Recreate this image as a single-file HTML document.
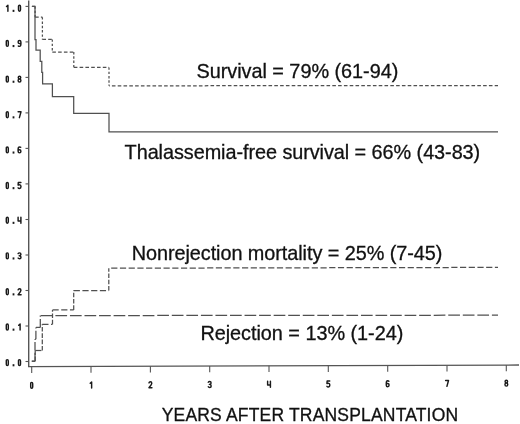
<!DOCTYPE html>
<html><head><meta charset="utf-8"><style>
html,body{margin:0;padding:0;background:#fff;width:520px;height:424px;overflow:hidden}
svg{display:block;filter:grayscale(1)}
.lb{font-family:"Liberation Sans",sans-serif;fill:#111;stroke:#111;stroke-width:0.3}
.gl{fill:none;stroke:#1a1a1a;stroke-width:1.45;stroke-linecap:round;stroke-linejoin:round}
</style></head><body>
<svg width="520" height="424" viewBox="0 0 520 424">
<line x1="28.7" y1="0.5" x2="28.7" y2="366.8" stroke="#555" stroke-width="1.4"/>
<line x1="28" y1="366.6" x2="519" y2="365" stroke="#555" stroke-width="1.3"/>
<line x1="25.5" y1="361.5" x2="28.7" y2="361.5" stroke="#555" stroke-width="1.1"/>
<path transform="translate(6.30,359.65)" d="M0,1.3 Q0,0 1.0,0 Q2.0,0 2.0,1.3 L2.0,4.6 Q2.0,5.9 1.0,5.9 Q0,5.9 0,4.6 Z" class="gl"/>
<rect x="12.60" y="364.20" width="1.8" height="2.1" fill="#1a1a1a"/>
<path transform="translate(18.50,359.65)" d="M0,1.3 Q0,0 1.0,0 Q2.0,0 2.0,1.3 L2.0,4.6 Q2.0,5.9 1.0,5.9 Q0,5.9 0,4.6 Z" class="gl"/>
<line x1="25.5" y1="326.0" x2="28.7" y2="326.0" stroke="#555" stroke-width="1.1"/>
<path transform="translate(6.30,324.05)" d="M0,1.3 Q0,0 1.0,0 Q2.0,0 2.0,1.3 L2.0,4.6 Q2.0,5.9 1.0,5.9 Q0,5.9 0,4.6 Z" class="gl"/>
<rect x="12.60" y="328.60" width="1.8" height="2.1" fill="#1a1a1a"/>
<path transform="translate(18.70,324.05)" d="M0,1.2 L1.4,0 L1.4,5.9" class="gl"/>
<line x1="25.5" y1="290.5" x2="28.7" y2="290.5" stroke="#555" stroke-width="1.1"/>
<path transform="translate(6.30,288.75)" d="M0,1.3 Q0,0 1.0,0 Q2.0,0 2.0,1.3 L2.0,4.6 Q2.0,5.9 1.0,5.9 Q0,5.9 0,4.6 Z" class="gl"/>
<rect x="12.60" y="293.30" width="1.8" height="2.1" fill="#1a1a1a"/>
<path transform="translate(18.10,288.75)" d="M0,1.1 Q0.3,0 1.4,0 Q2.8,0 2.8,1.4 Q2.8,2.5 0,5.9 L3.0,5.9" class="gl"/>
<line x1="25.5" y1="255.0" x2="28.7" y2="255.0" stroke="#555" stroke-width="1.1"/>
<path transform="translate(6.30,252.85)" d="M0,1.3 Q0,0 1.0,0 Q2.0,0 2.0,1.3 L2.0,4.6 Q2.0,5.9 1.0,5.9 Q0,5.9 0,4.6 Z" class="gl"/>
<rect x="12.60" y="257.40" width="1.8" height="2.1" fill="#1a1a1a"/>
<path transform="translate(18.10,252.85)" d="M0,0.7 Q0.4,0 1.4,0 Q2.8,0 2.8,1.45 Q2.8,2.85 1.1,2.85 M1.1,2.85 Q2.9,2.85 2.9,4.4 Q2.9,5.9 1.4,5.9 Q0.3,5.9 0,5.2" class="gl"/>
<line x1="25.5" y1="219.5" x2="28.7" y2="219.5" stroke="#555" stroke-width="1.1"/>
<path transform="translate(6.30,217.25)" d="M0,1.3 Q0,0 1.0,0 Q2.0,0 2.0,1.3 L2.0,4.6 Q2.0,5.9 1.0,5.9 Q0,5.9 0,4.6 Z" class="gl"/>
<rect x="12.60" y="221.80" width="1.8" height="2.1" fill="#1a1a1a"/>
<path transform="translate(18.10,217.25)" d="M0,0 L0,3.7 L2.9,3.7 M2.8,0 L2.8,5.9" class="gl"/>
<line x1="25.5" y1="183.9" x2="28.7" y2="183.9" stroke="#555" stroke-width="1.1"/>
<path transform="translate(6.30,182.55)" d="M0,1.3 Q0,0 1.0,0 Q2.0,0 2.0,1.3 L2.0,4.6 Q2.0,5.9 1.0,5.9 Q0,5.9 0,4.6 Z" class="gl"/>
<rect x="12.60" y="187.10" width="1.8" height="2.1" fill="#1a1a1a"/>
<path transform="translate(18.10,182.55)" d="M2.8,0 L0.2,0 L0,2.6 Q0.6,2.2 1.4,2.2 Q2.9,2.2 2.9,4.05 Q2.9,5.9 1.4,5.9 Q0.4,5.9 0,5.3" class="gl"/>
<line x1="25.5" y1="148.4" x2="28.7" y2="148.4" stroke="#555" stroke-width="1.1"/>
<path transform="translate(6.30,146.95)" d="M0,1.3 Q0,0 1.0,0 Q2.0,0 2.0,1.3 L2.0,4.6 Q2.0,5.9 1.0,5.9 Q0,5.9 0,4.6 Z" class="gl"/>
<rect x="12.60" y="151.50" width="1.8" height="2.1" fill="#1a1a1a"/>
<path transform="translate(18.10,146.95)" d="M2.6,0.4 Q2.2,0 1.4,0 Q0,0 0,2.5 L0,4.4 Q0,5.9 1.4,5.9 Q2.8,5.9 2.8,4.3 Q2.8,2.75 1.4,2.75 Q0.3,2.75 0,3.5" class="gl"/>
<line x1="25.5" y1="112.9" x2="28.7" y2="112.9" stroke="#555" stroke-width="1.1"/>
<path transform="translate(6.30,111.75)" d="M0,1.3 Q0,0 1.0,0 Q2.0,0 2.0,1.3 L2.0,4.6 Q2.0,5.9 1.0,5.9 Q0,5.9 0,4.6 Z" class="gl"/>
<rect x="12.60" y="116.30" width="1.8" height="2.1" fill="#1a1a1a"/>
<path transform="translate(18.10,111.75)" d="M0,0 L2.9,0 L1.3,5.9" class="gl"/>
<line x1="25.5" y1="77.4" x2="28.7" y2="77.4" stroke="#555" stroke-width="1.1"/>
<path transform="translate(6.30,76.15)" d="M0,1.3 Q0,0 1.0,0 Q2.0,0 2.0,1.3 L2.0,4.6 Q2.0,5.9 1.0,5.9 Q0,5.9 0,4.6 Z" class="gl"/>
<rect x="12.60" y="80.70" width="1.8" height="2.1" fill="#1a1a1a"/>
<path transform="translate(18.10,76.15)" d="M1.4,2.75 Q0.15,2.75 0.15,1.375 Q0.15,0 1.4,0 Q2.65,0 2.65,1.375 Q2.65,2.75 1.4,2.75 Q0,2.75 0,4.3 Q0,5.9 1.4,5.9 Q2.8,5.9 2.8,4.3 Q2.8,2.75 1.4,2.75 Z" class="gl"/>
<line x1="25.5" y1="41.9" x2="28.7" y2="41.9" stroke="#555" stroke-width="1.1"/>
<path transform="translate(6.30,40.45)" d="M0,1.3 Q0,0 1.0,0 Q2.0,0 2.0,1.3 L2.0,4.6 Q2.0,5.9 1.0,5.9 Q0,5.9 0,4.6 Z" class="gl"/>
<rect x="12.60" y="45.00" width="1.8" height="2.1" fill="#1a1a1a"/>
<path transform="translate(18.10,40.45)" d="M0.2,5.5 Q0.6,5.9 1.4,5.9 Q2.8,5.9 2.8,3.4 L2.8,1.5 Q2.8,0 1.4,0 Q0,0 0,1.6 Q0,3.15 1.4,3.15 Q2.4,3.15 2.8,2.35" class="gl"/>
<line x1="25.5" y1="6.4" x2="28.7" y2="6.4" stroke="#555" stroke-width="1.1"/>
<path transform="translate(6.50,5.25)" d="M0,1.2 L1.4,0 L1.4,5.9" class="gl"/>
<rect x="12.60" y="9.80" width="1.8" height="2.1" fill="#1a1a1a"/>
<path transform="translate(18.50,5.25)" d="M0,1.3 Q0,0 1.0,0 Q2.0,0 2.0,1.3 L2.0,4.6 Q2.0,5.9 1.0,5.9 Q0,5.9 0,4.6 Z" class="gl"/>
<line x1="31.7" y1="366.6" x2="31.7" y2="372.9" stroke="#555" stroke-width="1.1"/>
<path transform="translate(30.70,382.35)" d="M0,1.3 Q0,0 1.0,0 Q2.0,0 2.0,1.3 L2.0,4.6 Q2.0,5.9 1.0,5.9 Q0,5.9 0,4.6 Z" class="gl"/>
<line x1="91.0" y1="366.4" x2="91.0" y2="372.7" stroke="#555" stroke-width="1.1"/>
<path transform="translate(90.23,382.08)" d="M0,1.2 L1.4,0 L1.4,5.9" class="gl"/>
<line x1="150.4" y1="366.2" x2="150.4" y2="372.5" stroke="#555" stroke-width="1.1"/>
<path transform="translate(148.96,381.82)" d="M0,1.1 Q0.3,0 1.4,0 Q2.8,0 2.8,1.4 Q2.8,2.5 0,5.9 L3.0,5.9" class="gl"/>
<line x1="209.7" y1="366.0" x2="209.7" y2="372.3" stroke="#555" stroke-width="1.1"/>
<path transform="translate(208.29,381.55)" d="M0,0.7 Q0.4,0 1.4,0 Q2.8,0 2.8,1.45 Q2.8,2.85 1.1,2.85 M1.1,2.85 Q2.9,2.85 2.9,4.4 Q2.9,5.9 1.4,5.9 Q0.3,5.9 0,5.2" class="gl"/>
<line x1="269.0" y1="365.8" x2="269.0" y2="372.1" stroke="#555" stroke-width="1.1"/>
<path transform="translate(267.62,381.28)" d="M0,0 L0,3.7 L2.9,3.7 M2.8,0 L2.8,5.9" class="gl"/>
<line x1="328.3" y1="365.6" x2="328.3" y2="371.9" stroke="#555" stroke-width="1.1"/>
<path transform="translate(326.95,381.01)" d="M2.8,0 L0.2,0 L0,2.6 Q0.6,2.2 1.4,2.2 Q2.9,2.2 2.9,4.05 Q2.9,5.9 1.4,5.9 Q0.4,5.9 0,5.3" class="gl"/>
<line x1="387.7" y1="365.4" x2="387.7" y2="371.7" stroke="#555" stroke-width="1.1"/>
<path transform="translate(386.28,380.75)" d="M2.6,0.4 Q2.2,0 1.4,0 Q0,0 0,2.5 L0,4.4 Q0,5.9 1.4,5.9 Q2.8,5.9 2.8,4.3 Q2.8,2.75 1.4,2.75 Q0.3,2.75 0,3.5" class="gl"/>
<line x1="447.0" y1="365.2" x2="447.0" y2="371.5" stroke="#555" stroke-width="1.1"/>
<path transform="translate(445.61,380.48)" d="M0,0 L2.9,0 L1.3,5.9" class="gl"/>
<line x1="506.3" y1="365.0" x2="506.3" y2="371.3" stroke="#555" stroke-width="1.1"/>
<path transform="translate(504.94,380.21)" d="M1.4,2.75 Q0.15,2.75 0.15,1.375 Q0.15,0 1.4,0 Q2.65,0 2.65,1.375 Q2.65,2.75 1.4,2.75 Q0,2.75 0,4.3 Q0,5.9 1.4,5.9 Q2.8,5.9 2.8,4.3 Q2.8,2.75 1.4,2.75 Z" class="gl"/>
<path d="M31.9,6.4 L35.0,6.4 L35.0,39.6 L36.0,39.6 L36.0,50.2 L40.2,50.2 L40.2,61.3 L41.8,61.3 L41.8,72.4 L42.6,72.4 L42.6,83.9 L52.4,83.9 L52.4,96.5 L73.7,96.5 L73.7,113.4 L109.0,113.4 L109.0,131.8 L498.0,131.8" fill="none" stroke="#505050" stroke-width="1.25"/>
<g fill="none" stroke="#505050" stroke-width="1.25"><path d="M31.90,6.40 L35.10,6.40" stroke-dasharray="3.6 2.2" stroke-dashoffset="0.00"/><path d="M35.10,6.40 L35.10,17.20" stroke-dasharray="2.4 1.9" stroke-dashoffset="0.00"/><path d="M35.10,17.20 L42.40,17.20" stroke-dasharray="3.6 2.2" stroke-dashoffset="0.00"/><path d="M42.40,17.20 L42.40,39.40" stroke-dasharray="2.4 1.9" stroke-dashoffset="0.00"/><path d="M42.40,39.40 L52.30,39.40" stroke-dasharray="3.6 2.2" stroke-dashoffset="0.00"/><path d="M52.30,39.40 L52.30,52.00" stroke-dasharray="2.4 1.9" stroke-dashoffset="0.00"/><path d="M52.30,52.00 L73.80,52.00" stroke-dasharray="3.6 2.2" stroke-dashoffset="0.00"/><path d="M73.80,52.00 L73.80,67.40" stroke-dasharray="2.4 1.9" stroke-dashoffset="0.00"/><path d="M73.80,67.40 L109.00,67.40" stroke-dasharray="3.6 2.2" stroke-dashoffset="0.00"/><path d="M109.00,67.40 L109.00,85.80" stroke-dasharray="2.4 1.9" stroke-dashoffset="0.00"/><path d="M109.00,85.80 L498.00,85.60" stroke-dasharray="3.6 2.2" stroke-dashoffset="2.90"/></g>
<g fill="none" stroke="#505050" stroke-width="1.25"><path d="M31.80,361.20 L35.20,361.20" stroke-dasharray="6.2 2.52" stroke-dashoffset="0.00"/><path d="M35.20,361.20 L35.20,350.50" stroke-dasharray="4.6 1.7" stroke-dashoffset="0.00"/><path d="M35.20,350.50 L42.30,350.50" stroke-dasharray="6.2 2.52" stroke-dashoffset="0.00"/><path d="M42.30,350.50 L42.30,324.30" stroke-dasharray="4.6 1.7" stroke-dashoffset="0.00"/><path d="M42.30,324.30 L52.50,324.30" stroke-dasharray="6.2 2.52" stroke-dashoffset="0.00"/><path d="M52.50,324.30 L52.50,309.90" stroke-dasharray="4.6 1.7" stroke-dashoffset="0.00"/><path d="M52.50,309.90 L73.70,309.90" stroke-dasharray="6.2 2.52" stroke-dashoffset="0.00"/><path d="M73.70,309.90 L73.70,290.60" stroke-dasharray="4.6 1.7" stroke-dashoffset="0.00"/><path d="M73.70,290.60 L108.80,290.60" stroke-dasharray="6.2 2.52" stroke-dashoffset="0.00"/><path d="M108.80,290.60 L108.80,268.20" stroke-dasharray="4.6 1.7" stroke-dashoffset="0.00"/><path d="M108.80,268.20 L498.00,267.40" stroke-dasharray="6.2 2.52" stroke-dashoffset="6.32"/></g>
<g fill="none" stroke="#505050" stroke-width="1.25"><path d="M31.80,361.20 L35.00,361.20" stroke-dasharray="11.7 2.85" stroke-dashoffset="0.00"/><path d="M35.00,361.20 L35.00,339.20" stroke-dasharray="8.5 2.1" stroke-dashoffset="0.00"/><path d="M35.00,339.20 L35.90,339.20" stroke-dasharray="11.7 2.85" stroke-dashoffset="0.00"/><path d="M35.90,339.20 L35.90,327.40" stroke-dasharray="8.5 2.1" stroke-dashoffset="0.00"/><path d="M35.90,327.40 L40.30,327.40" stroke-dasharray="11.7 2.85" stroke-dashoffset="0.00"/><path d="M40.30,327.40 L40.30,315.60" stroke-dasharray="8.5 2.1" stroke-dashoffset="0.00"/><path d="M40.30,315.60 L498.00,315.20" stroke-dasharray="11.7 2.85" stroke-dashoffset="14.00"/></g>
<text x="196.5" y="77.8" class="lb" font-size="19.85" textLength="201.8" lengthAdjust="spacing">Survival = 79% (61-94)</text>
<text x="124.6" y="158.9" class="lb" font-size="19.85" textLength="355.6" lengthAdjust="spacing">Thalassemia-free survival = 66% (43-83)</text>
<text x="131.7" y="259.5" class="lb" font-size="19.85" textLength="310.6" lengthAdjust="spacing">Nonrejection mortality = 25% (7-45)</text>
<text x="200.4" y="340.3" class="lb" font-size="19.85" textLength="202.9" lengthAdjust="spacing">Rejection = 13% (1-24)</text>
<text x="161.7" y="421.2" class="lb" font-size="17.5" textLength="296.4" lengthAdjust="spacing">YEARS AFTER TRANSPLANTATION</text>
</svg>
</body></html>
